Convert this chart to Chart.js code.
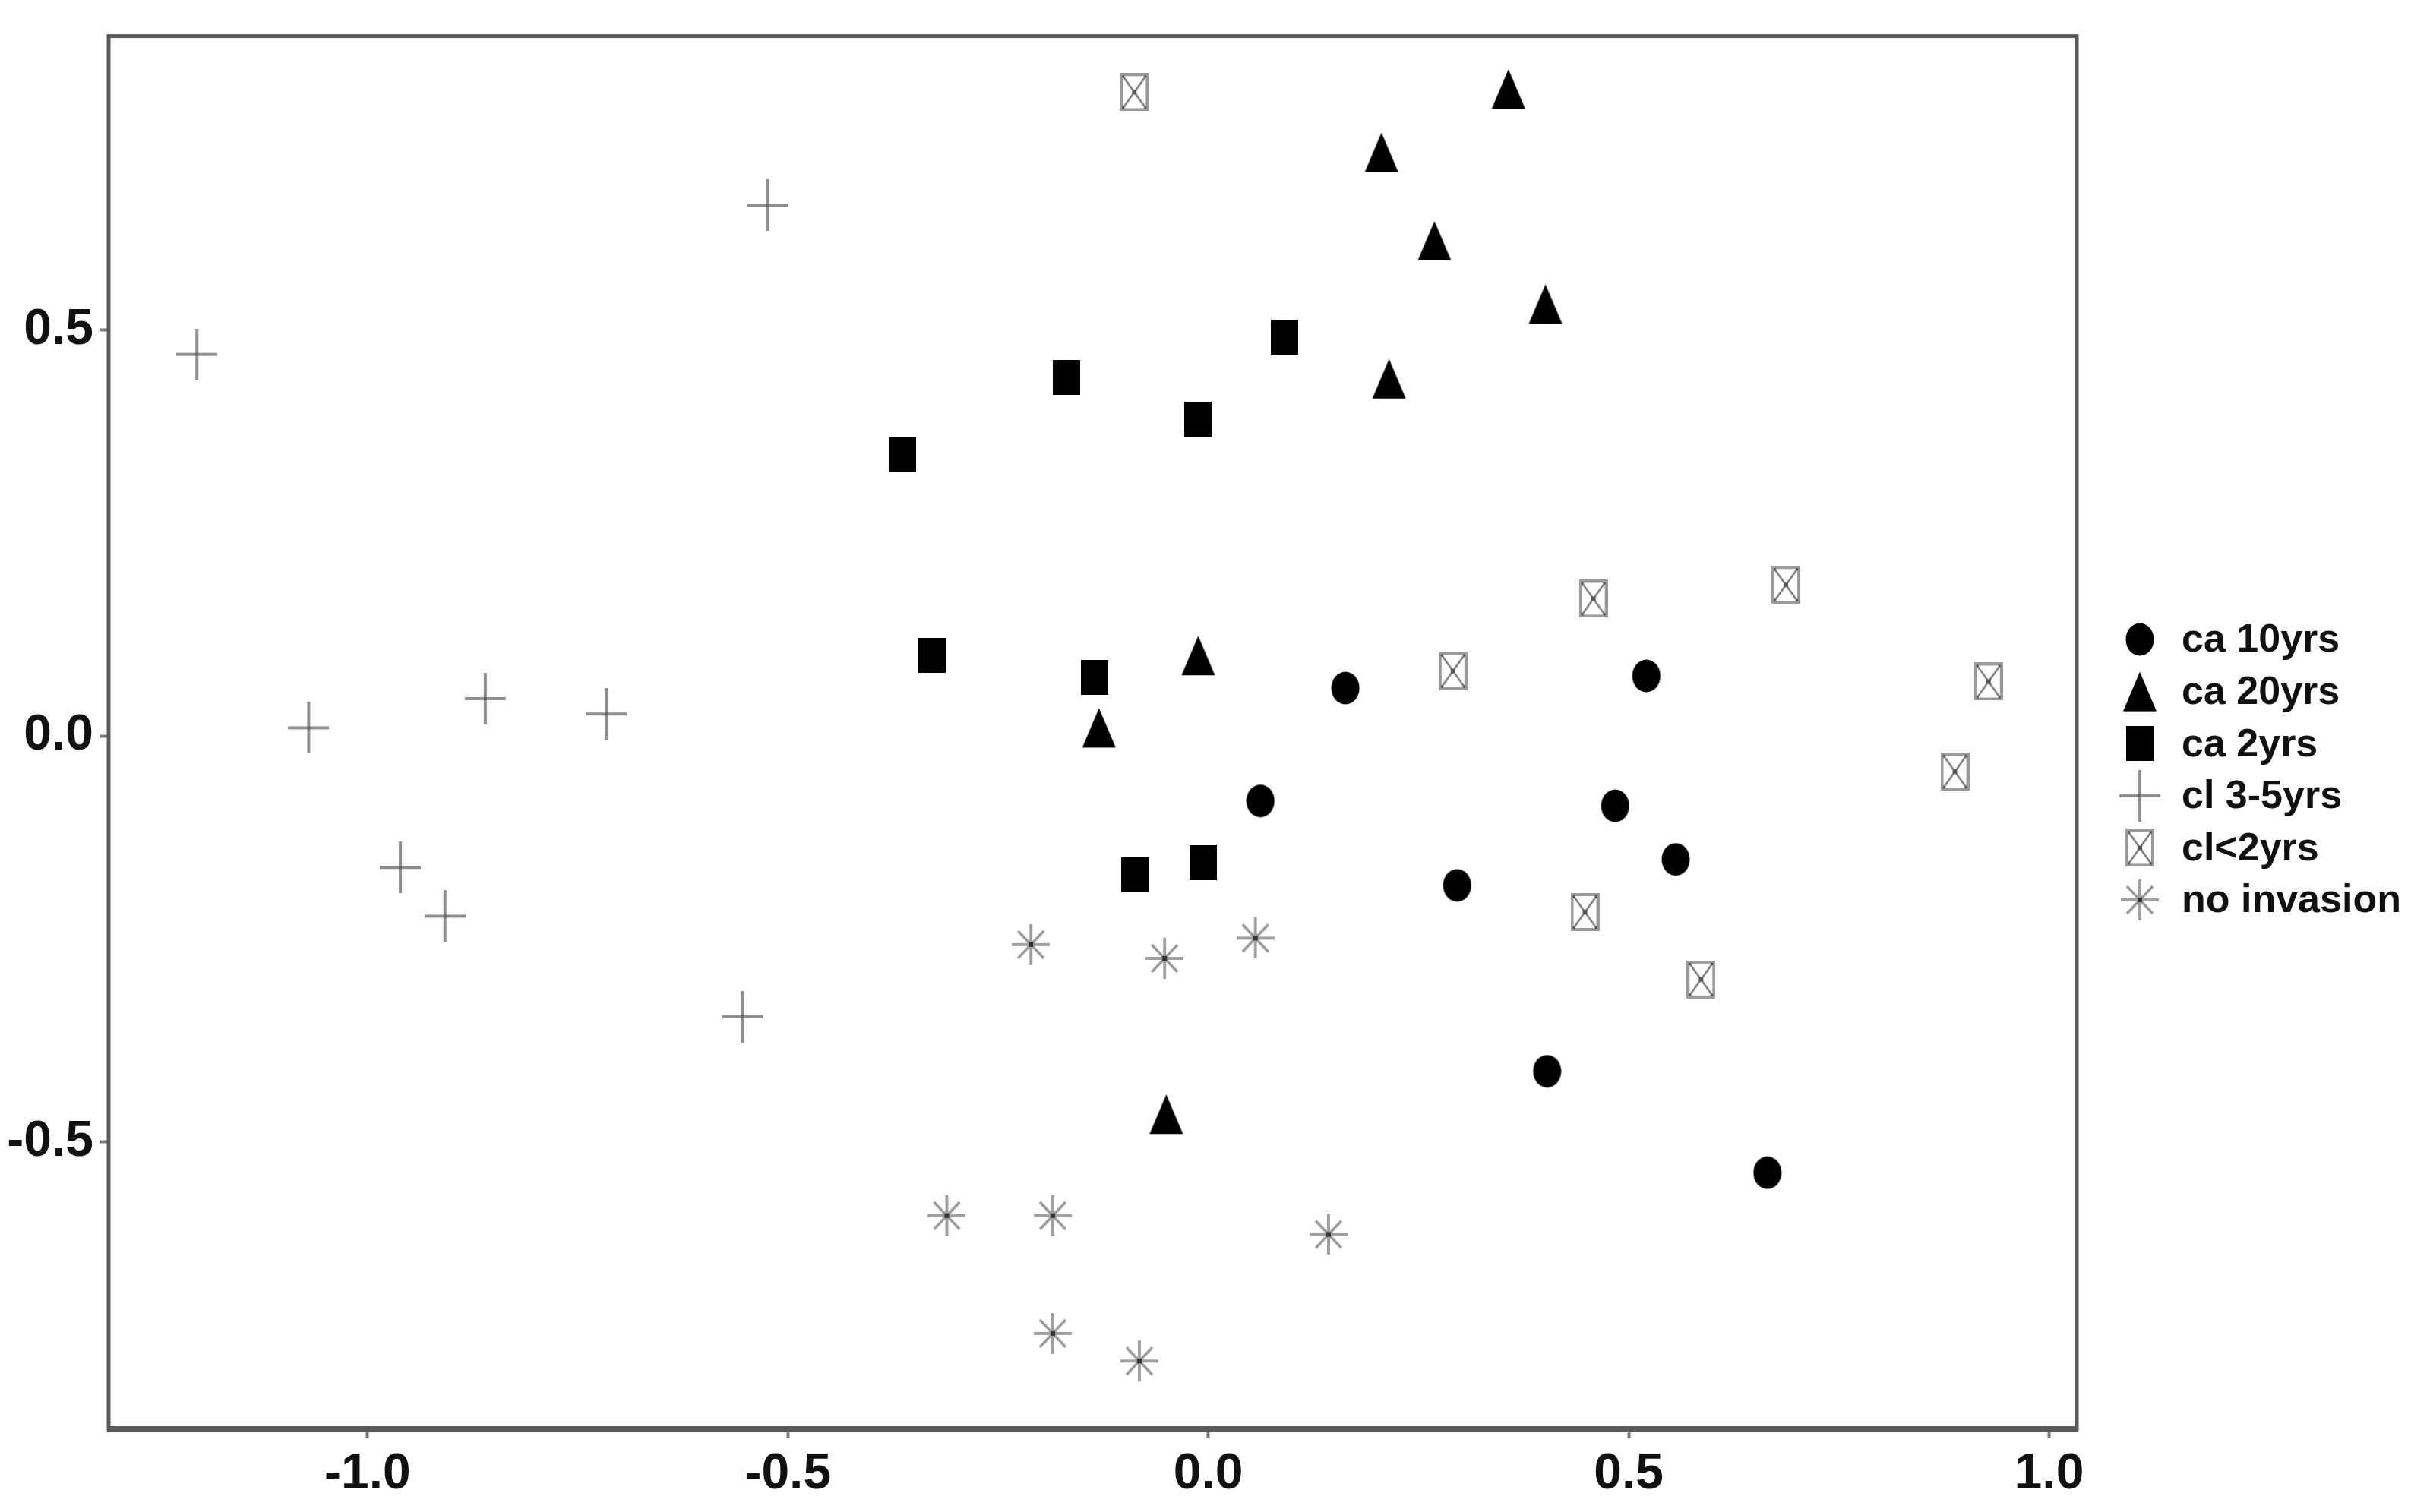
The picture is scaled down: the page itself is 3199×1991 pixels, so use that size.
<!DOCTYPE html>
<html>
<head>
<meta charset="utf-8">
<script src="https://cdn.jsdelivr.net/npm/chart.js@4.4.1/dist/chart.umd.min.js"></script>
<style>
  html, body { margin: 0; padding: 0; background: #ffffff; }
</style>
</head>
<body>
<canvas id="myChart" width="3199" height="1991"></canvas>
<script>
// groups as they appear in the legend
const groupNames = ["ca 10yrs", "ca 20yrs", "ca 2yrs", "cl 3-5yrs", "cl<2yrs", "no invasion"];

// ordination scores, one x/y pair of arrays per group
const ca10X = [0.163, 0.521, 0.062, 0.484, 0.556, 0.296, 0.403, 0.665];
const ca10Y = [0.059, 0.074, -0.080, -0.086, -0.152, -0.184, -0.413, -0.538];

const ca20X = [0.357, 0.206, 0.269, 0.401, 0.215, -0.012, -0.130, -0.050];
const ca20Y = [0.797, 0.719, 0.610, 0.532, 0.440, 0.099, 0.010, -0.466];

const ca2X = [0.091, -0.169, -0.012, -0.364, -0.329, -0.135, -0.006, -0.087];
const ca2Y = [0.491, 0.442, 0.390, 0.346, 0.099, 0.072, -0.156, -0.171];

const cl35X = [-1.203, -0.524, -1.070, -0.860, -0.716, -0.961, -0.908, -0.554];
const cl35Y = [0.470, 0.654, 0.010, 0.046, 0.027, -0.162, -0.222, -0.346];

const cl2X = [-0.088, 0.458, 0.687, 0.291, 0.928, 0.888, 0.448, 0.586];
const cl2Y = [0.793, 0.169, 0.186, 0.080, 0.067, -0.044, -0.217, -0.300];

const noInvX = [-0.211, -0.052, 0.056, -0.311, -0.185, 0.143, -0.185, -0.082];
const noInvY = [-0.257, -0.274, -0.249, -0.591, -0.591, -0.614, -0.736, -0.770];

// axis ticks
const xTicks = [-1.0, -0.5, 0.0, 0.5, 1.0];
const yTicks = [-0.5, 0.0, 0.5];

//build one small canvas per marker kind, used as the point style
function makeMarker(kind) {
  const c = document.createElement("canvas");
  const g = c.getContext("2d");
  if (kind === "circle") {
    c.width = 38; c.height = 44;
    g.fillStyle = "#000";
    g.beginPath();
    g.ellipse(19, 22, 18.5, 21.5, 0, 0, Math.PI * 2);
    g.fill();
  } else if (kind === "triangle") {
    c.width = 46; c.height = 54;
    g.fillStyle = "#000";
    g.beginPath();
    g.moveTo(23, 1);
    g.lineTo(45, 53);
    g.lineTo(1, 53);
    g.closePath();
    g.fill();
  } else if (kind === "square") {
    c.width = 36; c.height = 46;
    g.fillStyle = "#000";
    g.fillRect(0, 0, 36, 46);
  } else if (kind === "plus") {
    c.width = 54; c.height = 68;
    g.strokeStyle = "#8e8e8e";
    g.lineWidth = 4;
    g.beginPath();
    g.moveTo(0, 34); g.lineTo(54, 34);
    g.moveTo(27, 0); g.lineTo(27, 68);
    g.stroke();
    g.fillStyle = "#666";
    g.fillRect(25, 32, 4, 4);
  } else if (kind === "boxx") {
    c.width = 38; c.height = 50;
    g.strokeStyle = "#9a9a9a";
    g.lineWidth = 4;
    g.strokeRect(2, 2, 34, 46);
    g.strokeStyle = "#7a7a7a";
    g.lineWidth = 2.5;
    g.beginPath();
    g.moveTo(4, 4); g.lineTo(34, 46);
    g.moveTo(34, 4); g.lineTo(4, 46);
    g.stroke();
    g.fillStyle = "#555";
    g.fillRect(16, 22, 6, 6);
    g.fillRect(3, 3, 3, 3); g.fillRect(32, 3, 3, 3);
    g.fillRect(3, 44, 3, 3); g.fillRect(32, 44, 3, 3);
  } else if (kind === "star") {
    c.width = 50; c.height = 54;
    g.strokeStyle = "#a0a0a0";
    g.lineWidth = 4;
    g.beginPath();
    g.moveTo(0, 27); g.lineTo(50, 27);
    g.moveTo(25, 0); g.lineTo(25, 54);
    g.stroke();
    g.lineWidth = 3.5;
    g.strokeStyle = "#9a9a9a";
    g.beginPath();
    g.moveTo(8, 9); g.lineTo(42, 45);
    g.moveTo(42, 9); g.lineTo(8, 45);
    g.stroke();
    g.fillStyle = "#333";
    g.fillRect(22, 24, 6, 6);
  }
  return c;
}

const markerKinds = ["circle", "triangle", "square", "plus", "boxx", "star"];
const markers = markerKinds.map(makeMarker);

const xs = [ca10X, ca20X, ca2X, cl35X, cl2X, noInvX];
const ys = [ca10Y, ca20Y, ca2Y, cl35Y, cl2Y, noInvY];

const datasets = groupNames.map((name, i) => ({
  label: name,
  data: xs[i].map((x, j) => ({ x: x, y: ys[i][j] })),
  pointStyle: markers[i],
  pointRadius: 20,
  pointHoverRadius: 20,
}));

const tickFont = { family: "'Liberation Sans Narrow', 'Liberation Sans', Arial", size: 66, weight: "bold" };

//frame around the plotting area
const framePlugin = {
  id: "frame",
  afterDatasetsDraw(chart) {
    const { ctx, chartArea: a } = chart;
    ctx.save();
    ctx.strokeStyle = "#5a5a5a";
    ctx.lineWidth = 5;
    ctx.strokeRect(a.left, a.top, a.right - a.left, a.bottom - a.top);
    ctx.lineWidth = 8;
    ctx.beginPath();
    ctx.moveTo(a.left - 2, a.bottom);
    ctx.lineTo(a.right + 2, a.bottom);
    ctx.stroke();
    ctx.restore();
  },
};

//legend on the right, drawn by hand so it sits where the original one is
const legendPlugin = {
  id: "sideLegend",
  afterDraw(chart) {
    const ctx = chart.ctx;
    ctx.save();
    ctx.font = "bold 52px 'Liberation Sans', Arial";
    ctx.fillStyle = "#111";
    ctx.textBaseline = "middle";
    chart.data.datasets.forEach((ds, i) => {
      const y = 842 + i * 68.6;
      const m = ds.pointStyle;
      ctx.drawImage(m, 2817 - m.width / 2, y - m.height / 2);
      ctx.fillText(ds.label, 2872, y + 2);
    });
    ctx.restore();
  },
};

new Chart("myChart", {
  type: "scatter",
  data: { datasets: datasets },
  plugins: [framePlugin, legendPlugin],
  options: {
    responsive: false,
    animation: false,
    devicePixelRatio: 1,
    layout: { padding: { left: 0, right: 465, top: 40, bottom: 0 } },
    plugins: {
      legend: { display: false },
      tooltip: { enabled: false },
    },
    scales: {
      x: {
        type: "linear",
        min: -1.308,
        max: 1.033,
        afterBuildTicks: (s) => { s.ticks = xTicks.map((v) => ({ value: v })); },
        afterFit: (s) => { s.height = 109; },
        border: { display: false },
        grid: { drawOnChartArea: false, drawTicks: true, tickLength: 12, tickWidth: 4, tickColor: "#7a7a7a" },
        ticks: { callback: (v) => Number(v).toFixed(1), font: tickFont, color: "#111", padding: 8, maxRotation: 0, autoSkip: false },
      },
      y: {
        type: "linear",
        min: -0.854,
        max: 0.862,
        afterBuildTicks: (s) => { s.ticks = yTicks.map((v) => ({ value: v })); },
        afterFit: (s) => { s.width = 143; },
        border: { display: false },
        grid: { drawOnChartArea: false, drawTicks: true, tickLength: 12, tickWidth: 4, tickColor: "#7a7a7a" },
        ticks: { callback: (v) => Number(v).toFixed(1), font: tickFont, color: "#111", padding: 8, autoSkip: false },
      },
    },
  },
});
</script>
</body>
</html>
